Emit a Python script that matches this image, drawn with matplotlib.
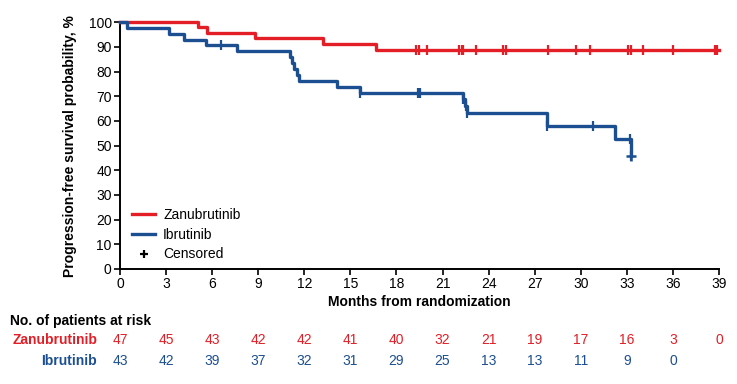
import matplotlib.pyplot as plt
import matplotlib
import numpy as np
from matplotlib.lines import Line2D

matplotlib.rcParams['font.family'] = ['Liberation Sans', 'DejaVu Sans']
matplotlib.rcParams['font.size'] = 10

red = '#E31E26'
blue = '#1C4F91'

# Kaplan-Meier steps (months, %)
zanu_t = [0, 5.1, 5.65, 8.8, 13.2, 16.7, 39.0]
zanu_s = [100, 97.9, 95.7, 93.5, 91.3, 88.9, 88.9]
zanu_cens = [19.3, 19.45, 20.0, 22.1, 22.25, 22.35, 23.2, 24.95, 25.15,
             27.85, 29.7, 30.6, 33.1, 33.25, 34.05, 36.0, 38.75, 38.9]

ibru_t = [0, 0.45, 3.2, 4.2, 5.6, 7.65, 11.05, 11.2, 11.35, 11.5, 11.65,
          14.1, 15.6, 22.3, 22.45, 22.6, 27.8, 32.2, 33.3]
ibru_s = [100, 97.7, 95.3, 93.0, 90.7, 88.4, 86.0, 83.6, 81.2, 78.8, 76.2,
          73.7, 71.4, 68.7, 66.0, 63.3, 58.0, 52.7, 45.6]
ibru_cens = [6.6, 15.6, 19.4, 19.55, 22.3, 22.5, 22.6, 27.8, 30.8, 33.2, 33.3]

months = [0, 3, 6, 9, 12, 15, 18, 21, 24, 27, 30, 33, 36, 39]
zanu_risk = [47, 45, 43, 42, 42, 41, 40, 32, 21, 19, 17, 16, 3, 0]
ibru_risk = [43, 42, 39, 37, 32, 31, 29, 25, 13, 13, 11, 9, 0]


def surv_at(t_list, s_list, times):
    idx = np.searchsorted(t_list, times, side='right') - 1
    return np.array(s_list)[idx]


fig = plt.figure(figsize=(7.37, 3.84), dpi=100)
ax = fig.add_axes([0.1628, 0.2995, 0.8128, 0.6425])

ax.step(zanu_t, zanu_s, where='post', color=red, lw=2.4, clip_on=False, zorder=3)
ax.step(ibru_t, ibru_s, where='post', color=blue, lw=2.4, clip_on=False, zorder=3)
ax.plot(zanu_cens, surv_at(zanu_t, zanu_s, zanu_cens), ls='none', marker='|',
        ms=7, mew=1.6, color=red, clip_on=False, zorder=4)
ax.plot(ibru_cens, surv_at(ibru_t, ibru_s, ibru_cens), ls='none', marker='|',
        ms=7, mew=1.6, color=blue, clip_on=False, zorder=4)
ax.plot([33.3], [45.6], ls='none', marker='+', ms=7, mew=1.8, color=blue, clip_on=False, zorder=4)

ax.set_xlim(0, 39)
ax.set_ylim(0, 100)
ax.set_xticks(months)
ax.set_yticks(range(0, 101, 10))
for s in ['top', 'right']:
    ax.spines[s].set_visible(False)
for s in ['left', 'bottom']:
    ax.spines[s].set_linewidth(1.4)
ax.tick_params(direction='out', length=4, width=1.2, labelsize=10, pad=2)
ax.set_ylabel('Progression-free survival probability, %', fontweight='bold', fontsize=10, labelpad=8)
ax.set_xlabel('Months from randomization', fontweight='bold', fontsize=10, labelpad=3)

handles = [Line2D([], [], color=red, lw=2.4),
           Line2D([], [], color=blue, lw=2.4),
           Line2D([], [], color='black', ls='none', marker='+', ms=6, mew=1.6)]
ax.legend(handles, ['Zanubrutinib', 'Ibrutinib', 'Censored'], loc='lower left',
          bbox_to_anchor=(0.0, -0.02), frameon=False, fontsize=10,
          handlelength=1.6, labelspacing=0.4, handletextpad=0.6)

# risk table
tr = ax.get_xaxis_transform()
fig.text(10 / 737, 1 - 321 / 384, 'No. of patients at risk', fontweight='bold',
         fontsize=10, va='center', ha='left')
fig.text(97 / 737, 1 - 340 / 384, 'Zanubrutinib', fontweight='bold', color=red,
         fontsize=10, va='center', ha='right')
fig.text(97 / 737, 1 - 361 / 384, 'Ibrutinib', fontweight='bold', color=blue,
         fontsize=10, va='center', ha='right')
for m, n in zip(months, zanu_risk):
    ax.text(m, -(340 - 269) / 246.7, str(n), transform=tr, color=red,
            ha='center', va='center', fontsize=10)
for m, n in zip(months, ibru_risk):
    ax.text(m, -(361 - 269) / 246.7, str(n), transform=tr, color=blue,
            ha='center', va='center', fontsize=10)

fig.savefig('out.png', dpi=100)
